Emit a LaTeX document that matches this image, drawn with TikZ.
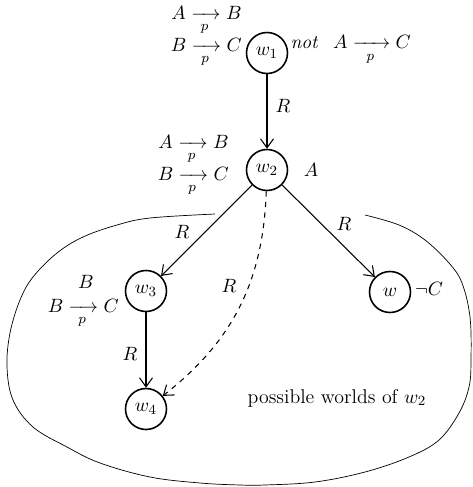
\documentclass[tikz,border=0pt]{standalone}
\usepackage{amsmath,amssymb}
\usepackage{tikz}
\usetikzlibrary{arrows.meta,positioning}

\tikzset{
  world/.style={circle, draw, line width=0.9pt, minimum size=8.2mm, inner sep=0pt},
  rel/.style={-{Straight Barb[length=1.8mm,width=2.6mm]}, semithick},
  lab/.style={anchor=base, inner sep=0pt},
  labl/.style={anchor=base east, inner sep=0pt},
}
\newcommand{\pto}{\xrightarrow[p]{\hspace{0.9em}}}

\begin{document}
\begin{tikzpicture}[x=0.2mm, y=-0.2mm, font=\fontsize{11.3pt}{13pt}\selectfont]
  \useasboundingbox (0,0) rectangle (472,487);
  % worlds
  \node[world] (w1) at (267,53) {$w_1$};
  \node[world] (w2) at (267,170) {$w_2$};
  \node[world] (w3) at (146,291) {$w_3$};
  \node[world] (w4) at (146,409) {$w_4$};
  \node[world] (w) at (390,292) {$w$};
  % accessibility
  \draw[rel] (w1) -- (w2);
  \draw[rel] (w2) -- (w3);
  \draw[rel] (w2) -- (w);
  \draw[rel] (w3) -- (w4);
  \draw[rel, dashed] (w2) to[out=-92, in=38] (w4);
  \node[lab] (r12) at (283,112) {$R$};
  \node[lab] (r23) at (182,238) {$R$};
  \node[lab] (r2w) at (344,230) {$R$};
  \node[lab] (r34) at (130,360) {$R$};
  \node[lab] (r24) at (229,292) {$R$};
  % what holds in each world
  \node[labl] (w1ab) at (242,19) {$A \pto B$};
  \node[labl] (w1bc) at (242,51) {$B \pto C$};
  \node[lab] (w1not) at (305,48) {$\mathit{not}$};
  \node[lab] (w1ac) at (372,49) {$A \xrightarrow[p]{\hspace{1.3em}} C$};
  \node[labl] (w2ab) at (229,148) {$A \pto B$};
  \node[labl] (w2bc) at (229,180) {$B \pto C$};
  \node[lab] (w2a) at (311,176) {$A$};
  \node[lab] (w3b) at (86,288) {$B$};
  \node[labl] (w3bc) at (119,312) {$B \pto C$};
  \node[lab] (wnc) at (429,295) {$\neg C$};
  \node[lab] (pw) at (337,403) {possible worlds of $w_2$};
  % region of possible worlds
  \draw[thin] plot[smooth, tension=0.6] coordinates {(215,214) (150,218) (117,225)
    (83,237) (57,253) (33,277) (20,300) (10,333) (7,367) (13,400) (33,427)
    (67,447) (100,463) (150,477) (200,483) (240,485) (265,485) (315,482)
    (365,472) (409,457) (439,440) (459,413) (469,387) (471,360) (470,317)
    (462,283) (449,263) (425,240) (399,225) (365,215)};
\end{tikzpicture}
\end{document}
